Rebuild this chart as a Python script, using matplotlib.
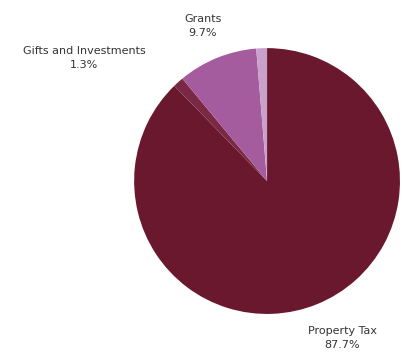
import matplotlib.pyplot as plt

labels = ['Property Tax', 'Gifts and Investments', 'Grants', '']
shares = [87.7, 1.3, 9.7, 1.3]
colors = ['#6a182e', '#7a2944', '#a45c9e', '#c9a2cc']

# label text positions (figure fraction), only for the named slices
label_pos = {'Property Tax': (0.847, 0.051),
             'Gifts and Investments': (0.208, 0.838),
             'Grants': (0.502, 0.927)}

fig = plt.figure(figsize=(4.04, 3.56), dpi=100)
ax = fig.add_axes([0.332, 0.118, 0.658, 0.747])
ax.pie(shares, colors=colors, startangle=90, counterclock=False,
       radius=1.0, wedgeprops=dict(linewidth=0))
ax.set_xlim(-1, 1)
ax.set_ylim(-1, 1)
ax.set_aspect('equal')
ax.axis('off')

for name, val in zip(labels, shares):
    if not name:
        continue
    x, y = label_pos[name]
    fig.text(x, y, '%s\n%.1f%%' % (name, val), ha='center', va='center',
             fontsize=8, color='#333333', linespacing=1.5)

plt.savefig('out.png', dpi=100)
